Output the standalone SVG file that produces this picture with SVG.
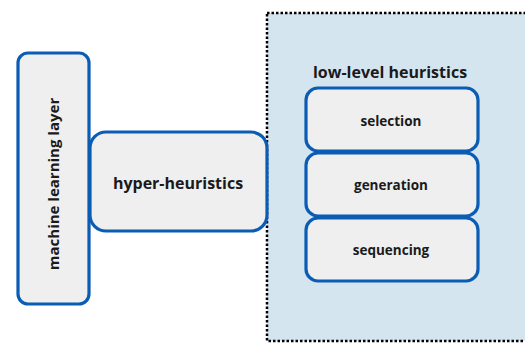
<svg xmlns="http://www.w3.org/2000/svg" width="525" height="343" viewBox="0 0 525 343">
  <style>
    .box { fill: #efefef; stroke: #0a5cb4; stroke-width: 3.2; }
    .lbl { font-family: "Open Sans", "Liberation Sans", sans-serif; font-weight: bold; fill: #1a1a1a; text-anchor: middle; dominant-baseline: central; }
  </style>
  <rect x="0" y="0" width="525" height="343" fill="#ffffff"/>

  <!-- low-level heuristics panel -->
  <g id="low-level-panel">
    <rect x="267" y="13" width="270" height="328" fill="#d5e5f0" stroke="#000000" stroke-width="2.5" stroke-dasharray="2.5 2"/>
    <text class="lbl" x="390" y="72" font-size="16">low-level heuristics</text>
  </g>

  <g id="connectors"></g>

  <g id="machine-learning-layer">
    <rect class="box" x="18" y="53" width="71" height="251" rx="10"/>
    <text class="lbl" x="0" y="0" font-size="15" transform="translate(53 184) rotate(-90)">machine learning layer</text>
  </g>

  <g id="hyper-heuristics">
    <rect class="box" x="90" y="132" width="177" height="99" rx="16"/>
    <text class="lbl" x="178" y="183" font-size="16">hyper-heuristics</text>
  </g>

  <g id="selection">
    <rect class="box" x="306" y="88" width="172" height="63" rx="12"/>
    <text class="lbl" x="391" y="121" font-size="13.5">selection</text>
  </g>

  <g id="generation">
    <rect class="box" x="306" y="153" width="172" height="63" rx="12"/>
    <text class="lbl" x="391" y="185" font-size="13.5">generation</text>
  </g>

  <g id="sequencing">
    <rect class="box" x="306" y="218" width="172" height="63" rx="12"/>
    <text class="lbl" x="391" y="250" font-size="13.5">sequencing</text>
  </g>
</svg>
